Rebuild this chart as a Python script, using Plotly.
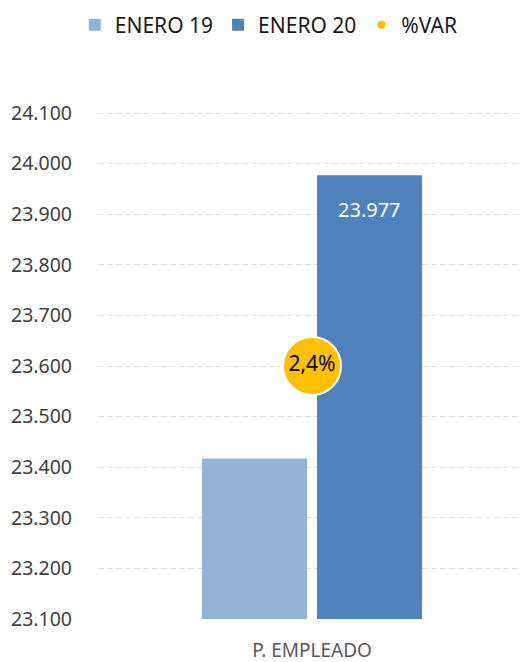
import plotly.graph_objects as go

categories = ["P. EMPLEADO"]
enero19 = [23417]
enero20 = [23977]
enero20_label = ["23.977"]
var_pct = [2.4]
var_labels = ["2,4%"]
tick_vals = [23100, 23200, 23300, 23400, 23500, 23600, 23700, 23800, 23900, 24000, 24100]
tick_text = ["23.100", "23.200", "23.300", "23.400", "23.500", "23.600", "23.700", "23.800", "23.900", "24.000", "24.100"]

FONT = "Noto Sans"
Y_RANGE = [23100, 24104]

fig = go.Figure()
fig.add_trace(go.Bar(name="ENERO 19", x=categories, y=enero19, marker_color="#95B3D7",
                     marker_line_width=0))
fig.add_trace(go.Bar(name="ENERO 20", x=categories, y=enero20, marker_color="#4F81BD",
                     marker_line_width=0))
fig.add_trace(go.Scatter(name="%VAR", x=categories, y=var_pct, yaxis="y2", mode="markers+text",
                         marker=dict(color="#FFC000", size=58, line=dict(color="white", width=2)),
                         text=var_labels, textposition="middle center",
                         textfont=dict(color="black", size=21, family=FONT),
                         showlegend=False))
fig.add_trace(go.Scatter(name="%VAR", x=[None], y=[None], yaxis="y2", mode="markers",
                         marker=dict(color="#FFC000", size=8)))

fig.add_annotation(x=categories[0], y=enero20[0], text=enero20_label[0], showarrow=False,
                   xshift=57, yshift=-34, yanchor="middle",
                   font=dict(color="white", size=20, family=FONT))

fig.update_layout(
    width=526, height=662,
    margin=dict(l=90, r=8, t=103, b=51, autoexpand=False),
    paper_bgcolor="white", plot_bgcolor="white",
    font=dict(family=FONT, color="#404040", size=20),
    barmode="group", bargap=0.4626, bargroupgap=0.087,
    showlegend=True,
    legend=dict(orientation="h", xref="container", yref="container", x=0.127, y=0.974,
                xanchor="left", yanchor="middle", font=dict(size=21, color="#1a1a1a"),
                traceorder="normal", itemwidth=30, tracegroupgap=0),
    xaxis=dict(showgrid=False, showline=False, zeroline=False, ticks="", automargin=False,
               tickfont=dict(size=19, color="#595959"), ticklabelstandoff=18),
    yaxis=dict(range=Y_RANGE, tickvals=tick_vals, ticktext=tick_text,
               showgrid=True, gridcolor="#E0E0E0", griddash="6px,3px", gridwidth=1.2,
               zeroline=False, showline=False, ticks="", ticklabelstandoff=25, automargin=False,
               tickfont=dict(size=19.5, color="#404040")),
    yaxis2=dict(range=[0, 4.819], overlaying="y", side="right", visible=False),
)

fig.write_html("out.html")
